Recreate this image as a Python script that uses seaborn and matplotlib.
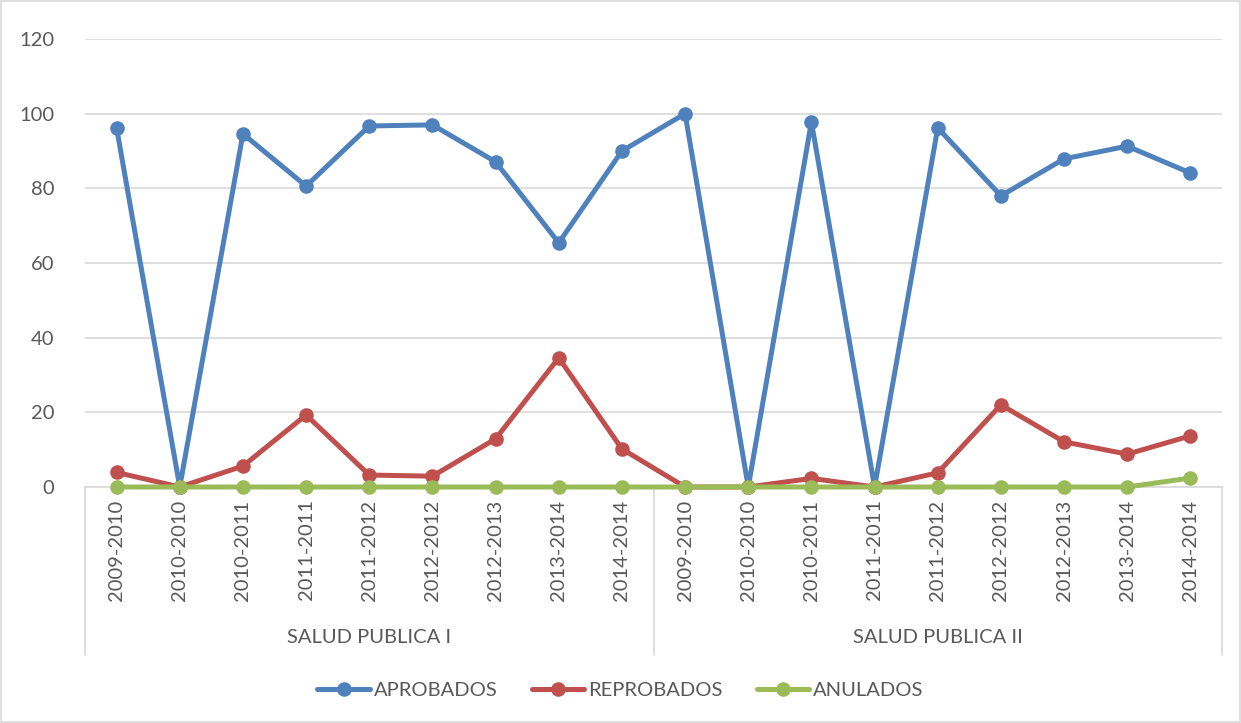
import numpy as np
import pandas as pd
import seaborn as sns
import matplotlib.pyplot as plt
import matplotlib.transforms as mtransforms
from matplotlib.patches import Rectangle

# data
periods = ['2009-2010', '2010-2010', '2010-2011', '2011-2011', '2011-2012',
           '2012-2012', '2012-2013', '2013-2014', '2014-2014']
groups = ['SALUD PUBLICA I', 'SALUD PUBLICA II']
aprobados = [96.2, 0, 94.6, 80.6, 96.7, 97.0, 87.1, 65.4, 90.0,
             100.0, 0, 97.8, 0, 96.2, 78.0, 87.9, 91.3, 84.1]
reprobados = [3.9, 0, 5.6, 19.3, 3.2, 2.9, 12.9, 34.6, 10.2,
              0, 0, 2.3, 0, 3.8, 22.0, 12.1, 8.8, 13.7]
anulados = [0, 0, 0, 0, 0, 0, 0, 0, 0,
            0, 0, 0, 0, 0, 0, 0, 0, 2.4]
series = ['APROBADOS', 'REPROBADOS', 'ANULADOS']
colors = ['#4F81BD', '#C0504D', '#9BBB59']

labels = periods * len(groups)
pos = np.arange(len(labels))
df = pd.DataFrame({'pos': pos, 'APROBADOS': aprobados,
                   'REPROBADOS': reprobados, 'ANULADOS': anulados})
long = df.melt(id_vars='pos', var_name='serie', value_name='valor')

sns.set_style('white')
plt.rcParams['font.family'] = ['Lato', 'DejaVu Sans']
txt = '#595959'
grid = '#D9D9D9'
fs = 14.5

fig = plt.figure(figsize=(12.41, 7.23), dpi=100)
ax = fig.add_axes([85 / 1241, (723 - 487) / 723, 1137 / 1241, 448 / 723])

sns.lineplot(data=long, x='pos', y='valor', hue='serie', hue_order=series,
             palette=colors, marker='o', markersize=10.5, markeredgewidth=0,
             linewidth=3.6, ax=ax, legend=False)
for ln in ax.lines:
    ln.set_clip_on(False)
    ln.set_zorder(3)

ax.set_xlim(-0.5, len(labels) - 0.5)
ax.set_ylim(0, 120)
ax.set_yticks(range(0, 121, 20))
ax.yaxis.grid(True, color=grid, linewidth=1.2)
ax.set_axisbelow(True)
for s in ['left', 'right', 'top']:
    ax.spines[s].set_visible(False)
ax.spines['bottom'].set_color(grid)
ax.spines['bottom'].set_linewidth(1.2)
ax.tick_params(axis='y', length=0, pad=22, labelsize=fs, labelcolor=txt)
ax.set_xticks(pos)
ax.set_xticklabels(labels, rotation=90, fontsize=fs, color=txt)
ax.tick_params(axis='x', length=0, pad=9)
ax.set_xlabel('')
ax.set_ylabel('')

# group axis
trans = mtransforms.blended_transform_factory(ax.transData, ax.transAxes)
for xb in [-0.5, len(periods) - 0.5, len(labels) - 0.5]:
    ax.plot([xb, xb], [0, -0.375], color=grid, linewidth=1.2,
            transform=trans, clip_on=False, zorder=1)
for i, g in enumerate(groups):
    xc = i * len(periods) + (len(periods) - 1) / 2
    ax.text(xc, -0.335, g, transform=trans, ha='center', va='center',
            fontsize=fs, color=txt)

# legend
handles = [plt.Line2D([], [], color=c, marker='o', markersize=10.5,
                      markeredgewidth=0, linewidth=3.6) for c in colors]
fig.legend(handles, series, loc='center', bbox_to_anchor=(0.5, 33 / 723),
           ncol=3, frameon=False, fontsize=fs, labelcolor=txt,
           handlelength=2.6, handletextpad=0.2, columnspacing=1.7)

fig.patches.append(Rectangle((0.001, 0.001), 0.998, 0.998, transform=fig.transFigure,
                             fill=False, edgecolor=grid, linewidth=1.2))

fig.savefig('out.png', dpi=100)
